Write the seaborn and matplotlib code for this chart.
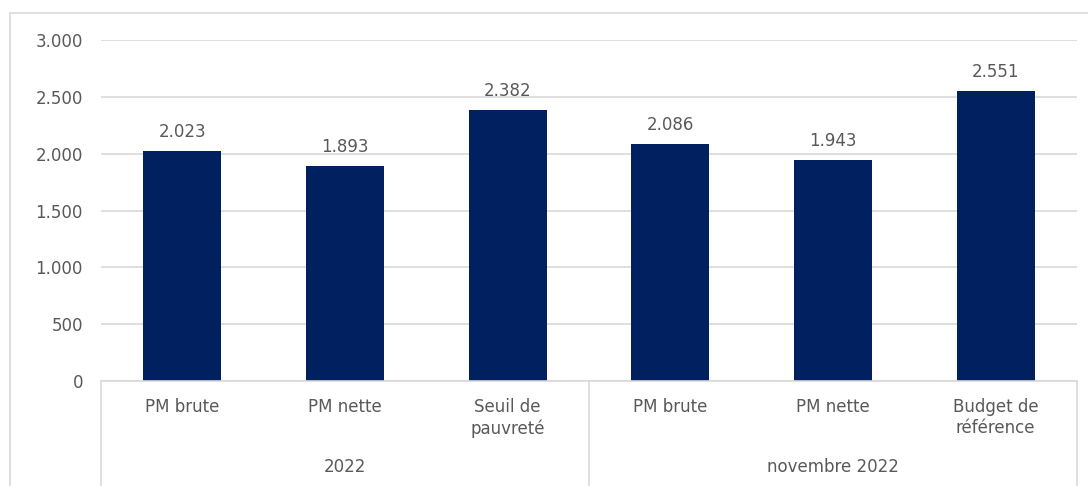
import matplotlib
matplotlib.use("Agg")
import matplotlib.pyplot as plt
import seaborn as sns
import pandas as pd
from matplotlib.patches import Rectangle

# data
labels = ["PM brute", "PM nette", "Seuil de\npauvreté", "PM brute", "PM nette", "Budget de\nréférence"]
values = [2023, 1893, 2382, 2086, 1943, 2551]
groups = ["2022", "novembre 2022"]
group_sizes = [3, 3]
yticks = [0, 500, 1000, 1500, 2000, 2500, 3000]

df = pd.DataFrame({"pos": range(len(values)), "value": values})

sns.set_style("white")
plt.rcParams["font.family"] = ["DejaVu Sans"]
txt = "#595959"
grid = "#d9d9d9"
navy = "#002060"
fs = 12

fig = plt.figure(figsize=(10.88, 4.86), dpi=100)
ax = fig.add_axes([101 / 1088, 1 - 381 / 486, (1077 - 101) / 1088, (381 - 40) / 486])

sns.barplot(data=df, x="pos", y="value", color=navy, width=0.48, ax=ax,
            saturation=1, edgecolor="none")

ax.set_xlim(-0.5, len(values) - 0.5)
ax.set_ylim(0, 3000)
ax.set_yticks(yticks)
ax.set_yticklabels([f"{v:,}".replace(",", ".") for v in yticks], color=txt, fontsize=fs)
ax.set_xticks(range(len(values)))
ax.set_xticklabels(labels, color=txt, fontsize=fs, linespacing=1.25, va="top")
ax.tick_params(axis="x", length=0, pad=12)
ax.tick_params(axis="y", length=0, pad=13)
ax.yaxis.grid(True, color=grid, lw=1.2)
ax.set_axisbelow(True)
for s in ["top", "right", "left"]:
    ax.spines[s].set_visible(False)
ax.spines["bottom"].set_color(grid)
ax.spines["bottom"].set_linewidth(1.2)
ax.set_xlabel("")
ax.set_ylabel("")

# value labels
for i, v in enumerate(values):
    ax.text(i, v + 90, f"{v:,}".replace(",", "."), ha="center", va="bottom",
            color=txt, fontsize=fs)

# group separators and group labels
start = 0
bounds = [-0.5]
for g, n in zip(groups, group_sizes):
    mid = start + (n - 1) / 2
    ax.annotate(g, xy=(mid, 0), xycoords=("data", "axes fraction"),
                xytext=(0, -62), textcoords="offset points", ha="center", va="center",
                color=txt, fontsize=fs)
    start += n
    bounds.append(start - 0.5)
for b in bounds:
    ax.plot([b, b], [0, -0.35], color=grid, lw=1.2, clip_on=False,
            transform=ax.get_xaxis_transform())

# outer frame of the chart box
fig.patches.append(Rectangle((10 / 1088, -0.1), 1.2, 1 - 13 / 486 + 0.1,
                             transform=fig.transFigure, fill=False,
                             edgecolor=grid, lw=1.2))

fig.savefig("out.png", dpi=100)
